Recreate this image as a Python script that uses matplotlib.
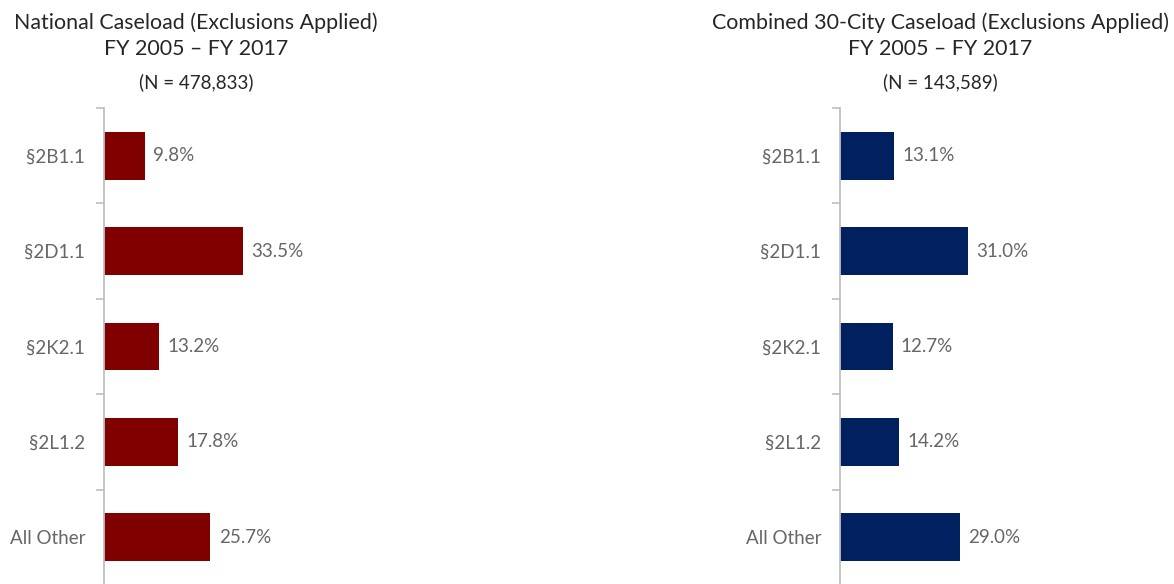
import matplotlib
matplotlib.use("Agg")
import matplotlib.pyplot as plt

categories = ["§2B1.1", "§2D1.1", "§2K2.1", "§2L1.2", "All Other"]
national_values = [9.8, 33.5, 13.2, 17.8, 25.7]
city_values = [13.1, 31.0, 12.7, 14.2, 29.0]

titles = [
    ("National Caseload (Exclusions Applied)", "FY 2005 \u2013 FY 2017", "(N = 478,833)"),
    ("Combined 30-City Caseload (Exclusions Applied)", "FY 2005 \u2013 FY 2017", "(N = 143,589)"),
]
colors = ["#800000", "#002060"]

plt.rcParams['font.family'] = ['Lato', 'DejaVu Sans']

W, H = 1174, 584
fig = plt.figure(figsize=(W / 100, H / 100), dpi=100)

axes_left_px = [104, 840]
title_center_px = [196, 940]
px_per_unit = 4.14
ax_w_px = 300
top_px = 108
bottom_px = 585

for i, (vals, col) in enumerate(zip([national_values, city_values], colors)):
    left = axes_left_px[i] / W
    ax = fig.add_axes([left, 1 - bottom_px / H, ax_w_px / W, (bottom_px - top_px) / H])
    y = list(range(len(categories)))
    ax.barh(y, vals, height=0.5, color=col, edgecolor="none")
    ax.set_xlim(0, ax_w_px / px_per_unit)
    ax.set_ylim(len(categories) - 0.5, -0.5)
    ax.set_yticks(y)
    ax.set_yticklabels(categories, fontsize=13.5, color="#666666")
    ax.set_yticks([k - 0.5 for k in range(len(categories) + 1)], minor=True)
    ax.tick_params(axis="y", which="major", length=0, pad=13.5)
    ax.tick_params(axis="y", which="minor", length=6, width=1.2, color="#bfbfbf", direction="out")
    ax.set_xticks([])
    for s in ["top", "right", "bottom"]:
        ax.spines[s].set_visible(False)
    ax.spines["left"].set_color("#bfbfbf")
    ax.spines["left"].set_linewidth(1.3)
    for yy, v in zip(y, vals):
        ax.annotate(f"{v:.1f}%", (v, yy), xytext=(6, 0), textcoords="offset points",
                    va="center", ha="left", fontsize=13.5, color="#666666")
    cx = title_center_px[i] / W
    t1, t2, t3 = titles[i]
    fig.text(cx, 1 - 23 / H, t1, ha="center", va="center", fontsize=15.4, color="#262626")
    fig.text(cx, 1 - 49 / H, t2, ha="center", va="center", fontsize=15.4, color="#262626")
    fig.text(cx, 1 - 82 / H, t3, ha="center", va="center", fontsize=13.5, color="#262626")

fig.savefig("out.png", dpi=100)
